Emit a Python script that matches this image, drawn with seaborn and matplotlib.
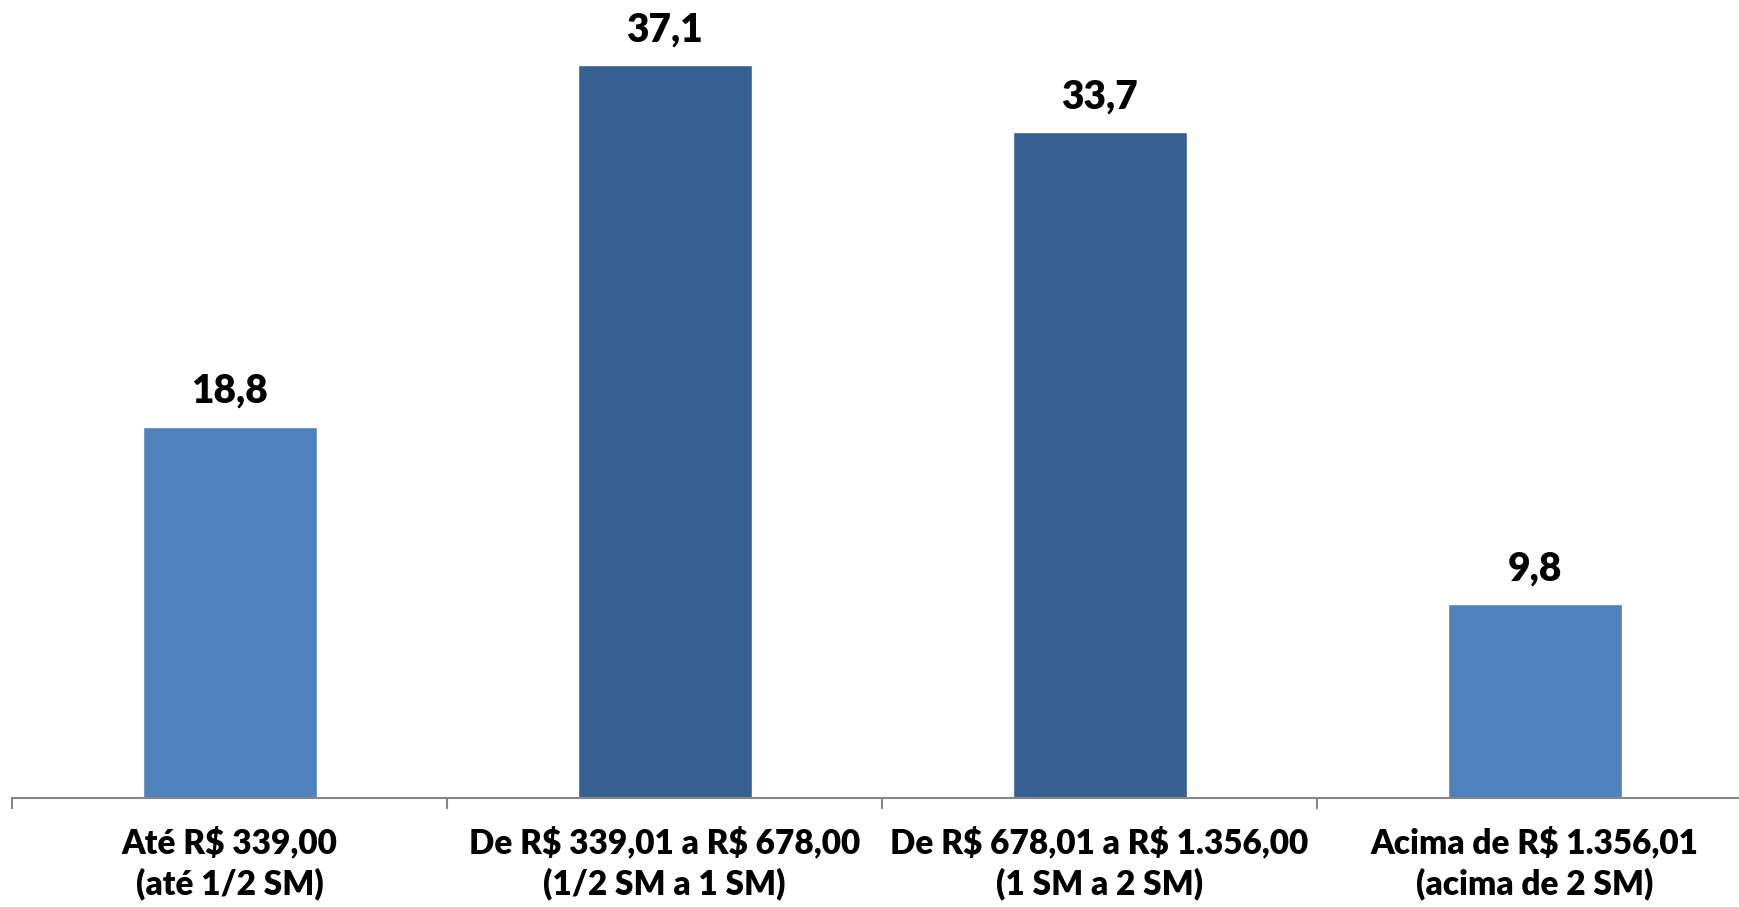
import matplotlib
matplotlib.use("Agg")
import matplotlib.pyplot as plt
import seaborn as sns
import pandas as pd

categories = ["Até R\\$ 339,00\n(até 1/2 SM)",
              "De R\\$ 339,01 a R\\$ 678,00\n(1/2 SM a 1 SM)",
              "De R\\$ 678,01 a R\\$ 1.356,00\n(1 SM a 2 SM)",
              "Acima de R\\$ 1.356,01\n(acima de 2 SM)"]
values = [18.8, 37.1, 33.7, 9.8]
value_labels = ["18,8", "37,1", "33,7", "9,8"]
colors = ["#4F81BD", "#376092", "#376092", "#4F81BD"]

sns.set_theme(style="white")
plt.rcParams['font.family'] = ['Lato', 'DejaVu Sans']

df = pd.DataFrame({"cat": categories, "val": values})

fig = plt.figure(figsize=(17.4, 9.07), dpi=100)
ax = fig.add_axes([12/1740, 109/907, 1 - 12/1740, 798/907])
sns.barplot(data=df, x="cat", y="val", hue="cat", palette=colors,
            width=0.4, legend=False, ax=ax, saturation=1)

for s in ["top", "right", "left"]:
    ax.spines[s].set_visible(False)
ax.spines["bottom"].set_color("#868686")
ax.spines["bottom"].set_linewidth(1.5)
ax.set_yticks([])
ax.set_xlabel("")
ax.set_ylabel("")

ax.set_xticks(range(len(categories)))
ax.set_xticklabels(categories, fontsize=24, fontweight="heavy", color="black",
                   linespacing=1.3)
ax.tick_params(axis="x", which="major", length=0, pad=21)
ax.set_xticks([-0.5, 0.5, 1.5, 2.5, 3.5], minor=True)
ax.tick_params(axis="x", which="minor", length=8, width=1.5, color="#868686",
               direction="out", bottom=True)

ax.set_ylim(0, 40.4)
ax.set_xlim(-0.5, 3.472)

for i, (v, lab) in enumerate(zip(values, value_labels)):
    ax.annotate(lab, (i, v), xytext=(0, 12), textcoords="offset points",
                ha="center", va="bottom", fontsize=28, fontweight="heavy",
                color="black")

fig.savefig("out.png", dpi=100)
